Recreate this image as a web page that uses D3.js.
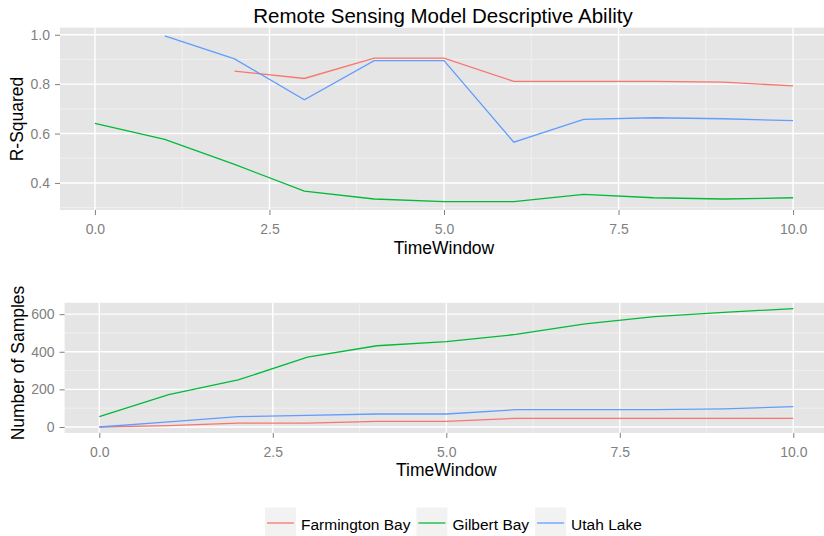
<!DOCTYPE html>
<html>
<head>
<meta charset="utf-8">
<script src="https://cdn.jsdelivr.net/npm/d3@7"></script>
<style>
  body { margin: 0; background: #fff; }
  svg { display: block; font-family: "Liberation Sans", Arial, sans-serif; }
</style>
</head>
<body>
<svg id="chart" width="824" height="536"></svg>
<script>
// data
const timeWindow = [0, 1, 2, 3, 4, 5, 6, 7, 8, 9, 10];
const seriesNames = ["Farmington Bay", "Gilbert Bay", "Utah Lake"];
const seriesColors = ["#F8766D", "#00BA38", "#619CFF"];

const rsqFarmington = [null, null, 0.853, 0.823, 0.905, 0.905, 0.811, 0.811, 0.811, 0.808, 0.793];
const rsqGilbert = [0.641, 0.576, 0.475, 0.367, 0.335, 0.324, 0.324, 0.354, 0.340, 0.335, 0.340];
const rsqUtah = [null, 0.995, 0.902, 0.737, 0.895, 0.895, 0.565, 0.657, 0.664, 0.660, 0.652];

const nFarmington = [0, 7, 21, 21, 30, 30, 46, 46, 46, 46, 46];
const nGilbert = [55, 172, 250, 371, 432, 454, 492, 548, 587, 610, 629];
const nUtah = [0, 27, 55, 62, 69, 69, 92, 92, 92, 96, 108];

const xTicks = [0, 2.5, 5, 7.5, 10];
const xMinor = [1.25, 3.75, 6.25, 8.75];
const rsqTicks = [0.4, 0.6, 0.8, 1.0];
const rsqMinor = [0.3, 0.5, 0.7, 0.9];
const nTicks = [0, 200, 400, 600];
const nMinor = [100, 300, 500];

const svg = d3.select("#chart");
const tickGrey = "#7F7F7F";

// ggplot style 5% expansion
function expand(ext) {
  const pad = (ext[1] - ext[0]) * 0.05;
  return [ext[0] - pad, ext[1] + pad];
}

function drawPanel(svg, p) {
  const x = d3.scaleLinear()
    .domain(expand(d3.extent(timeWindow)))
    .range([p.left, p.right]);
  const allVals = p.series.flat().filter((v) => v != null);
  const y = d3.scaleLinear()
    .domain(expand(d3.extent(allVals)))
    .range([p.bottom, p.top]);

  const g = svg.append("g").attr("class", "panel");

  g.append("rect")
    .attr("x", p.left)
    .attr("y", p.top)
    .attr("width", p.right - p.left)
    .attr("height", p.bottom - p.top)
    .attr("fill", "#E5E5E5");

  // minor grid
  g.selectAll(".vminor")
    .data(xMinor)
    .join("line")
    .attr("x1", (d) => x(d)).attr("x2", (d) => x(d))
    .attr("y1", p.top).attr("y2", p.bottom)
    .attr("stroke", "#F2F2F2").attr("stroke-width", 0.8);
  g.selectAll(".hminor")
    .data(p.minor)
    .join("line")
    .attr("x1", p.left).attr("x2", p.right)
    .attr("y1", (d) => y(d)).attr("y2", (d) => y(d))
    .attr("stroke", "#F2F2F2").attr("stroke-width", 0.8);

  // major grid
  g.selectAll(".vmajor")
    .data(xTicks)
    .join("line")
    .attr("x1", (d) => x(d)).attr("x2", (d) => x(d))
    .attr("y1", p.top).attr("y2", p.bottom)
    .attr("stroke", "#FFFFFF").attr("stroke-width", 1.4);
  g.selectAll(".hmajor")
    .data(p.ticks)
    .join("line")
    .attr("x1", p.left).attr("x2", p.right)
    .attr("y1", (d) => y(d)).attr("y2", (d) => y(d))
    .attr("stroke", "#FFFFFF").attr("stroke-width", 1.4);

  const line = d3.line()
    .defined((d) => d != null)
    .x((d, i) => x(timeWindow[i]))
    .y((d) => y(d));

  g.selectAll(".series")
    .data(p.series)
    .join("path")
    .attr("class", "series")
    .attr("fill", "none")
    .attr("stroke", (d, i) => seriesColors[i])
    .attr("stroke-width", 1.3)
    .attr("d", line);

  const xAxis = svg.append("g")
    .attr("transform", `translate(0,${p.bottom})`)
    .call(d3.axisBottom(x).tickValues(xTicks).tickFormat(d3.format(".1f"))
      .tickSize(5).tickPadding(9));
  const yAxis = svg.append("g")
    .attr("transform", `translate(${p.left},0)`)
    .call(d3.axisLeft(y).tickValues(p.ticks).tickFormat(p.format)
      .tickSize(5).tickPadding(5));

  [xAxis, yAxis].forEach((a) => {
    a.select(".domain").remove();
    a.selectAll(".tick line").attr("stroke", tickGrey);
    a.selectAll(".tick text")
      .attr("fill", tickGrey)
      .style("font-size", "14px")
      .style("font-family", "'Liberation Sans', Arial, sans-serif");
  });

  svg.append("text")
    .attr("x", (p.left + p.right) / 2)
    .attr("y", p.xTitleY)
    .attr("text-anchor", "middle")
    .style("font-size", "17.5px")
    .text("TimeWindow");

  svg.append("text")
    .attr("transform", `translate(${p.yTitleX},${p.yTitleCy}) rotate(-90)`)
    .attr("text-anchor", "middle")
    .style("font-size", "17.5px")
    .text(p.yTitle);
}

svg.append("text")
  .attr("x", 443)
  .attr("y", 23)
  .attr("text-anchor", "middle")
  .style("font-size", "20.5px")
  .text("Remote Sensing Model Descriptive Ability");

drawPanel(svg, {
  left: 60, right: 828, top: 27.7, bottom: 210,
  series: [rsqFarmington, rsqGilbert, rsqUtah],
  ticks: rsqTicks, minor: rsqMinor, format: d3.format(".1f"),
  xTitleY: 254, yTitle: "R-Squared", yTitleX: 22.5, yTitleCy: 119
});

drawPanel(svg, {
  left: 64.6, right: 828, top: 302.8, bottom: 432.9,
  series: [nFarmington, nGilbert, nUtah],
  ticks: nTicks, minor: nMinor, format: d3.format("d"),
  xTitleY: 476, yTitle: "Number of Samples", yTitleX: 24, yTitleCy: 363
});

// legend
const legend = svg.append("g").attr("class", "legend");
let lx = 265;
seriesNames.forEach((name, i) => {
  legend.append("rect")
    .attr("x", lx).attr("y", 507.5)
    .attr("width", 31).attr("height", 31)
    .attr("fill", "#F2F2F2");
  legend.append("line")
    .attr("x1", lx + 2).attr("x2", lx + 29)
    .attr("y1", 523).attr("y2", 523)
    .attr("stroke", seriesColors[i])
    .attr("stroke-width", 1.3);
  const t = legend.append("text")
    .attr("x", lx + 36).attr("y", 529.5)
    .style("font-size", "15.5px")
    .text(name);
  lx += 36 + t.node().getComputedTextLength() + 6;
});
</script>
</body>
</html>
